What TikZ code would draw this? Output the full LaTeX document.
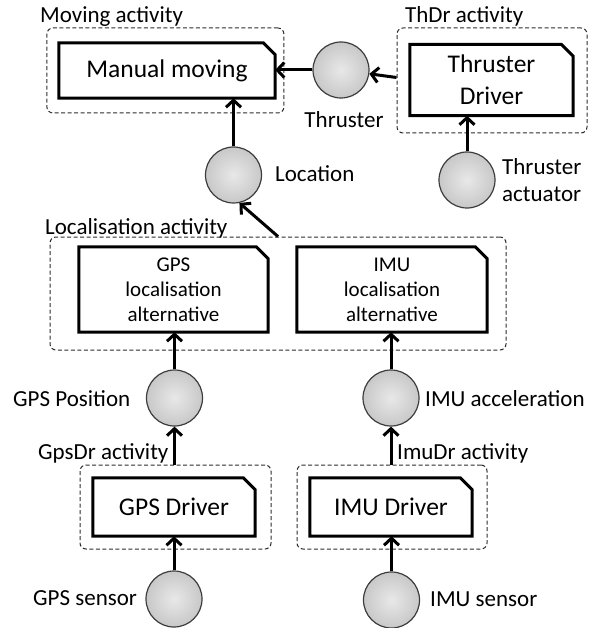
\documentclass[tikz,border=0pt]{standalone}
\usepackage{fontspec}
\setmainfont{Carlito}
\usetikzlibrary{arrows.meta,calc}
\definecolor{circin}{RGB}{232,232,232}
\definecolor{circout}{RGB}{200,200,200}
\definecolor{circline}{RGB}{60,60,60}
\definecolor{dashline}{RGB}{45,45,45}
\tikzset{
  lbl/.style={inner sep=0pt,font=\fontsize{23}{27}\selectfont,anchor=west},
  bigtxt/.style={font=\fontsize{25.5}{33}\selectfont,align=center},
  smalltxt/.style={font=\fontsize{21}{25}\selectfont,align=center},
  hold/.style={draw=none,inner sep=0pt,minimum width=#1},
  activity/.style={draw=dashline,line width=1pt,dash pattern=on 4pt off 2.5pt,rounded corners=6pt,inner sep=0pt},
  datum/.style={circle,draw=circline,line width=1.2pt,inner color=circin,outer color=circout,minimum size=56pt,inner sep=0pt},
  flow/.style={line width=3pt,-{Straight Barb[length=7pt,width=15pt,line width=3pt]}},
  cutbox/.style={line width=3pt,line join=miter}
}
\newcommand{\cutoutline}[1]{%
  \draw[cutbox] (#1.south west) |- ($(#1.north east)+(-12pt,0)$) -- ($(#1.north east)+(0,-12pt)$) |- cycle;}
\begin{document}
\begin{tikzpicture}[x=1pt,y=-1pt]
\path[use as bounding box] (0,0) rectangle (588,628);

% activity (dashed) boxes
\node[activity,minimum width=237pt,minimum height=85pt] (mvA) at (165.4,70.5) {};
\node[activity,minimum width=190pt,minimum height=105pt] (thA) at (492,80.5) {};
\node[activity,minimum width=456pt,minimum height=113pt] (loA) at (278,293.5) {};
\node[activity,minimum width=191pt,minimum height=84pt] (gdA) at (175.5,507) {};
\node[activity,minimum width=190pt,minimum height=84pt] (idA) at (392,507) {};

% component boxes
\node[bigtxt,hold=216pt,minimum height=55pt] (mm) at (167,70.5) {Manual moving};
\node[bigtxt,hold=163pt,minimum height=71pt] (td) at (491.5,80) {Thruster\\[-1pt]Driver};
\node[smalltxt,hold=189pt,minimum height=85pt] (gl) at (173.5,289.5) {GPS\\localisation\\alternative};
\node[smalltxt,hold=190pt,minimum height=85pt] (il) at (392,289.5) {IMU\\localisation\\alternative};
\node[bigtxt,hold=162pt,minimum height=58pt] (gd) at (174,507) {GPS Driver};
\node[bigtxt,hold=162pt,minimum height=58pt] (id) at (391,507) {IMU Driver};
\cutoutline{mm}
\cutoutline{td}
\cutoutline{gl}
\cutoutline{il}
\cutoutline{gd}
\cutoutline{id}

% data circles
\node[datum] (thr) at (341,70) {};
\node[datum] (loc) at (233.5,175) {};
\node[datum] (act) at (467,180) {};
\node[datum] (gpos) at (174.5,398) {};
\node[datum] (iacc) at (391,398) {};
\node[datum] (gsen) at (174,599) {};
\node[datum] (isen) at (391.5,600) {};

% labels
\node[lbl] (lmv) at (40,17) {Moving activity};
\node[lbl] (lth) at (405,16) {ThDr activity};
\node[lbl,anchor=center] (lthr) at (344,120) {Thruster};
\node[lbl] (lloc) at (275,174) {Location};
\node[lbl,align=left,font=\fontsize{23}{27}\selectfont] (lact) at (502,180) {Thruster\\actuator};
\node[lbl] (llo) at (45,228) {Localisation activity};
\node[lbl] (lgpos) at (13,399) {GPS Position};
\node[lbl] (liacc) at (425,399) {IMU acceleration};
\node[lbl] (lgd) at (38,453) {GpsDr activity};
\node[lbl] (lid) at (397,453) {ImuDr activity};
\node[lbl] (lgsen) at (33,598) {GPS sensor};
\node[lbl] (lisen) at (430,599) {IMU sensor};

% connectors
\draw[flow] (act.north) -- (act.north |- td.south);
\draw[flow] ([yshift=3pt]thA.west) -- (thr);
\draw[flow] (thr.west) -- (mm.east |- thr.west);
\draw[flow] (loc.north) -- (loc.north |- mm.south);
\draw[flow] (loA.north) -- (loc.-78);
\draw[flow] (gpos.north) -- (gpos.north |- gl.south);
\draw[flow] (gpos.south |- gdA.north) -- (gpos.south);
\draw[flow] (gsen.north) -- (gsen.north |- gd.south);
\draw[flow] (iacc.north) -- (iacc.north |- il.south);
\draw[flow] (iacc.south |- idA.north) -- (iacc.south);
\draw[flow] (isen.north) -- (isen.north |- id.south);
\end{tikzpicture}
\end{document}
